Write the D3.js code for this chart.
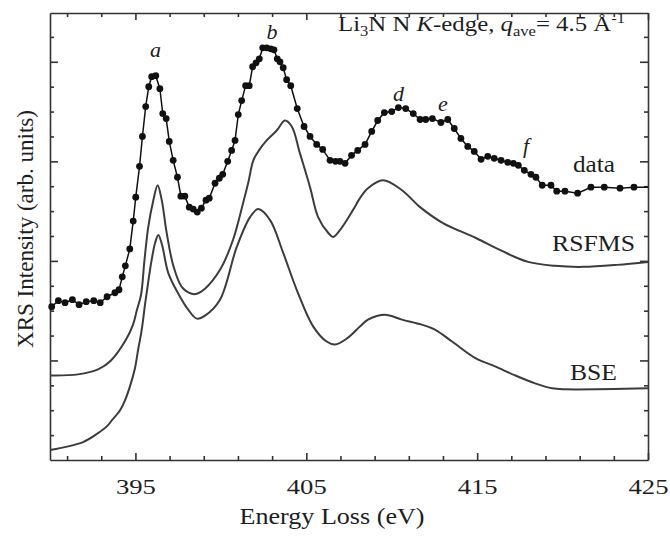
<!DOCTYPE html>
<html>
<head>
<meta charset="utf-8">
<script src="https://cdn.jsdelivr.net/npm/d3@7"></script>
<style>
  body { margin: 0; background: #fff; }
  svg text { font-family: "Liberation Serif", "Times New Roman", serif; fill: #1e1e1e; }
</style>
</head>
<body>
<div id="viz"></div>
<script>

// measured XRS spectrum (dots)
var dataE = [390.10, 390.49, 390.88, 391.31, 391.70, 392.12, 392.56, 392.94, 393.34, 393.80,
  394.04, 394.23, 394.41, 394.67, 394.87, 395.02, 395.24, 395.41, 395.60, 395.78,
  395.95, 396.19, 396.43, 396.60, 396.80, 396.98, 397.21, 397.46, 397.66, 397.89,
  398.15, 398.38, 398.62, 398.86, 399.13, 399.32, 399.66, 399.91, 400.11, 400.40,
  400.63, 400.83, 401.02, 401.22, 401.45, 401.66, 401.86, 402.06, 402.25, 402.45,
  402.68, 402.92, 403.11, 403.30, 403.46, 403.65, 403.85, 404.09, 404.47, 404.87,
  405.22, 405.61, 405.96, 406.39, 406.71, 406.97, 407.27, 407.65, 408.01, 408.44,
  408.83, 409.18, 409.57, 410.00, 410.39, 410.82, 411.26, 411.66, 411.99, 412.38,
  412.88, 413.28, 413.66, 414.05, 414.45, 414.83, 415.23, 415.62, 416.00, 416.40,
  416.79, 417.12, 417.41, 417.76, 418.15, 418.44, 418.81, 419.32, 419.66, 420.14,
  420.88, 421.66, 422.44, 423.36, 424.18];
var dataI = [1.54, 1.60, 1.58, 1.61, 1.56, 1.59, 1.60, 1.58, 1.64, 1.68,
  1.71, 1.84, 1.95, 2.12, 2.40, 2.64, 2.95, 3.25, 3.55, 3.75,
  3.85, 3.86, 3.73, 3.48, 3.43, 3.20, 3.01, 2.84, 2.65, 2.65,
  2.54, 2.52, 2.49, 2.53, 2.61, 2.63, 2.78, 2.83, 2.87, 3.00,
  3.11, 3.21, 3.47, 3.61, 3.76, 3.76, 3.95, 3.99, 4.03, 4.14,
  4.14, 4.13, 4.12, 4.03, 4.00, 3.94, 3.82, 3.76, 3.53, 3.35,
  3.25, 3.17, 3.12, 3.01, 3.00, 3.00, 2.98, 3.06, 3.11, 3.17,
  3.30, 3.41, 3.49, 3.50, 3.54, 3.53, 3.48, 3.42, 3.42, 3.43,
  3.39, 3.42, 3.33, 3.23, 3.15, 3.10, 3.02, 3.05, 3.03, 3.01,
  2.99, 2.98, 2.96, 2.91, 2.87, 2.84, 2.76, 2.76, 2.70, 2.70,
  2.68, 2.74, 2.74, 2.73, 2.74];

// RSFMS calculation
var rsfmsE = [390.00, 391.64, 392.81, 393.57, 394.45, 394.86, 395.09, 395.33, 395.52, 395.75,
  396.05, 396.30, 396.54, 396.83, 397.22, 397.71, 398.29, 398.60, 399.07, 399.95,
  400.71, 401.30, 401.61, 401.90, 402.23, 402.68, 403.27, 403.75, 404.15, 404.63,
  405.22, 405.69, 406.29, 406.56, 406.97, 407.73, 408.14, 408.61, 409.49, 410.60,
  411.66, 413.00, 414.93, 416.45, 417.98, 419.56, 421.20, 423.19, 425.00];
var rsfmsI = [0.85, 0.86, 0.91, 1.00, 1.21, 1.36, 1.51, 1.66, 1.99, 2.34,
  2.61, 2.76, 2.61, 2.28, 1.95, 1.74, 1.67, 1.67, 1.72, 1.91,
  2.21, 2.58, 2.79, 3.01, 3.11, 3.21, 3.31, 3.41, 3.35, 3.08,
  2.74, 2.44, 2.28, 2.24, 2.31, 2.51, 2.63, 2.73, 2.81, 2.71,
  2.54, 2.38, 2.23, 2.10, 1.99, 1.95, 1.94, 1.96, 1.99];

// BSE calculation
var bseE = [390.00, 391.93, 392.81, 393.34, 393.63, 394.10, 394.39, 394.68, 394.97, 395.15,
  395.37, 395.56, 395.75, 395.95, 396.15, 396.34, 396.56, 396.92, 397.51, 398.09,
  398.59, 399.07, 399.95, 400.93, 401.71, 402.19, 402.88, 403.65, 404.44, 405.41,
  406.19, 406.68, 407.37, 408.14, 408.61, 409.61, 410.60, 411.75, 412.53, 413.53,
  414.93, 416.05, 417.22, 418.39, 419.38, 420.14, 425.00];
var bseI = [0.10, 0.18, 0.27, 0.34, 0.40, 0.50, 0.60, 0.74, 0.92, 1.10,
  1.31, 1.56, 1.79, 2.01, 2.18, 2.26, 2.16, 1.88, 1.67, 1.51,
  1.42, 1.45, 1.61, 2.14, 2.44, 2.52, 2.41, 2.08, 1.71, 1.34,
  1.19, 1.16, 1.22, 1.34, 1.41, 1.46, 1.41, 1.36, 1.31, 1.19,
  1.02, 0.94, 0.85, 0.77, 0.72, 0.71, 0.72];

var xMajor = [395, 405, 415, 425];
var xMinor = [391, 393, 397, 399, 401, 403, 407, 409, 411, 413, 417, 419, 421, 423];
var yMajor = [1, 2, 3, 4];
var yMinor = [0.25, 0.5, 0.75, 1.25, 1.5, 1.75, 2.25, 2.5, 2.75, 3.25, 3.5, 3.75, 4.25];

var peakNames = ["a", "b", "d", "e", "f"];
var peakE = [396.17, 402.99, 410.40, 413.00, 417.86];
var peakI = [4.05, 4.23, 3.61, 3.51, 3.08];

var margin = {top: 13, right: 22, bottom: 76, left: 50},
  width = 670 - margin.left - margin.right,
  height = 536 - margin.top - margin.bottom;

var svg = d3.select("#viz").append("svg")
  .attr("width", width + margin.left + margin.right)
  .attr("height", height + margin.top + margin.bottom)
.append("g")
  .attr("transform", "translate(" + margin.left + "," + margin.top + ")");

var x = d3.scaleLinear().domain([390, 425]).range([0, width]);
var y = d3.scaleLinear().domain([0, 4.49]).range([height, 0]);

svg.append("clipPath").attr("id", "clip")
  .append("rect").attr("width", width).attr("height", height);

// frame + inward ticks on all four sides
function frame(axis, scale, tx, ty, major, minor, big, small) {
  var g = svg.append("g").attr("transform", "translate(" + tx + "," + ty + ")");
  g.call(axis(scale).tickValues(major).tickSize(-big).tickSizeOuter(0).tickFormat(""));
  g.append("g").call(axis(scale).tickValues(minor).tickSize(-small).tickFormat(""))
    .select(".domain").remove();
  g.selectAll("path, line").attr("stroke", "#333").attr("stroke-width", 1.6);
  return g;
}

var bottom = frame(d3.axisBottom, x, 0, height, xMajor, xMinor, 7, 4);
frame(d3.axisTop, x, 0, 0, xMajor, xMinor, 7, 4);
frame(d3.axisLeft, y, 0, 0, yMajor, yMinor, 8, 4);
frame(d3.axisRight, y, width, 0, yMajor, yMinor, 8, 4);

bottom.selectAll(":scope > .tick")
  .append("text")
    .attr("y", 34)
    .attr("text-anchor", "middle")
    .attr("font-size", 21)
    .attr("textLength", 40)
    .attr("lengthAdjust", "spacingAndGlyphs")
    .text(function(d){return d});

var curve = d3.line()
  .x(function(d){return x(d[0])})
  .y(function(d){return y(d[1])})
  .curve(d3.curveCatmullRom.alpha(0.5));

var calc = svg.append("g").attr("clip-path", "url(#clip)");

calc.append("path")
  .datum(rsfmsE.map(function(e, i){return [e, rsfmsI[i]]}))
  .attr("d", curve)
  .attr("fill", "none").attr("stroke", "#3c3c3c").attr("stroke-width", 2);

calc.append("path")
  .datum(bseE.map(function(e, i){return [e, bseI[i]]}))
  .attr("d", curve)
  .attr("fill", "none").attr("stroke", "#3c3c3c").attr("stroke-width", 2);

var pts = dataE.map(function(e, i){return [e, dataI[i]]});

// the data line runs on flat to the right edge
calc.append("path")
  .datum(pts.concat([[x.domain()[1], dataI[dataI.length - 1]]]))
  .attr("d", d3.line().x(function(d){return x(d[0])}).y(function(d){return y(d[1])}))
  .attr("fill", "none").attr("stroke", "#111").attr("stroke-width", 1.5);

svg.selectAll("circle")
  .data(pts)
  .enter()
.append("circle")
  .attr("cx", function(d){return x(d[0])})
  .attr("cy", function(d){return y(d[1])})
  .attr("r", 3.4)
  .attr("fill", "#111");

// peak letters
svg.selectAll(".peak")
  .data(peakNames)
  .enter()
.append("text")
  .attr("class", "peak")
  .attr("x", function(d, i){return x(peakE[i])})
  .attr("y", function(d, i){return y(peakI[i])})
  .attr("text-anchor", "middle")
  .attr("font-size", 22)
  .attr("font-style", "italic")
  .text(function(d){return d});

// curve names
function label(t, e, v, anchor, len) {
  svg.append("text")
    .attr("x", x(e)).attr("y", y(v))
    .attr("text-anchor", anchor)
    .attr("font-size", 23)
    .attr("textLength", len)
    .attr("lengthAdjust", "spacingAndGlyphs")
    .text(t);
}
label("data", 421.84, 2.89, "middle", 42);
label("RSFMS", 419.38, 2.10, "start", 83);
label("BSE", 420.43, 0.80, "start", 47);

// title with sub/superscripts
var title = svg.append("text")
  .attr("x", 288).attr("y", 18)
  .attr("font-size", 21)
  .attr("textLength", 287)
  .attr("lengthAdjust", "spacingAndGlyphs");
title.append("tspan").text("Li");
title.append("tspan").attr("font-size", 14).attr("dy", 5).text("3");
title.append("tspan").attr("dy", -5).text("N N ");
title.append("tspan").attr("font-style", "italic").text("K");
title.append("tspan").text("-edge, ");
title.append("tspan").attr("font-style", "italic").text("q");
title.append("tspan").attr("font-size", 14).attr("dy", 5).text("ave");
title.append("tspan").attr("dy", -5).text("= 4.5 Å");
title.append("tspan").attr("font-size", 14).attr("dy", -8).text("-1");

svg.append("text")
  .attr("x", width / 2 - 17).attr("y", height + 64)
  .attr("text-anchor", "middle")
  .attr("font-size", 23)
  .attr("textLength", 185)
  .attr("lengthAdjust", "spacingAndGlyphs")
  .text("Energy Loss (eV)");

svg.append("text")
  .attr("transform", "translate(-17," + (229 - margin.top) + ") rotate(-90)")
  .attr("text-anchor", "middle")
  .attr("font-size", 24)
  .attr("textLength", 238)
  .attr("lengthAdjust", "spacingAndGlyphs")
  .text("XRS Intensity (arb. units)");

</script>
</body>
</html>
